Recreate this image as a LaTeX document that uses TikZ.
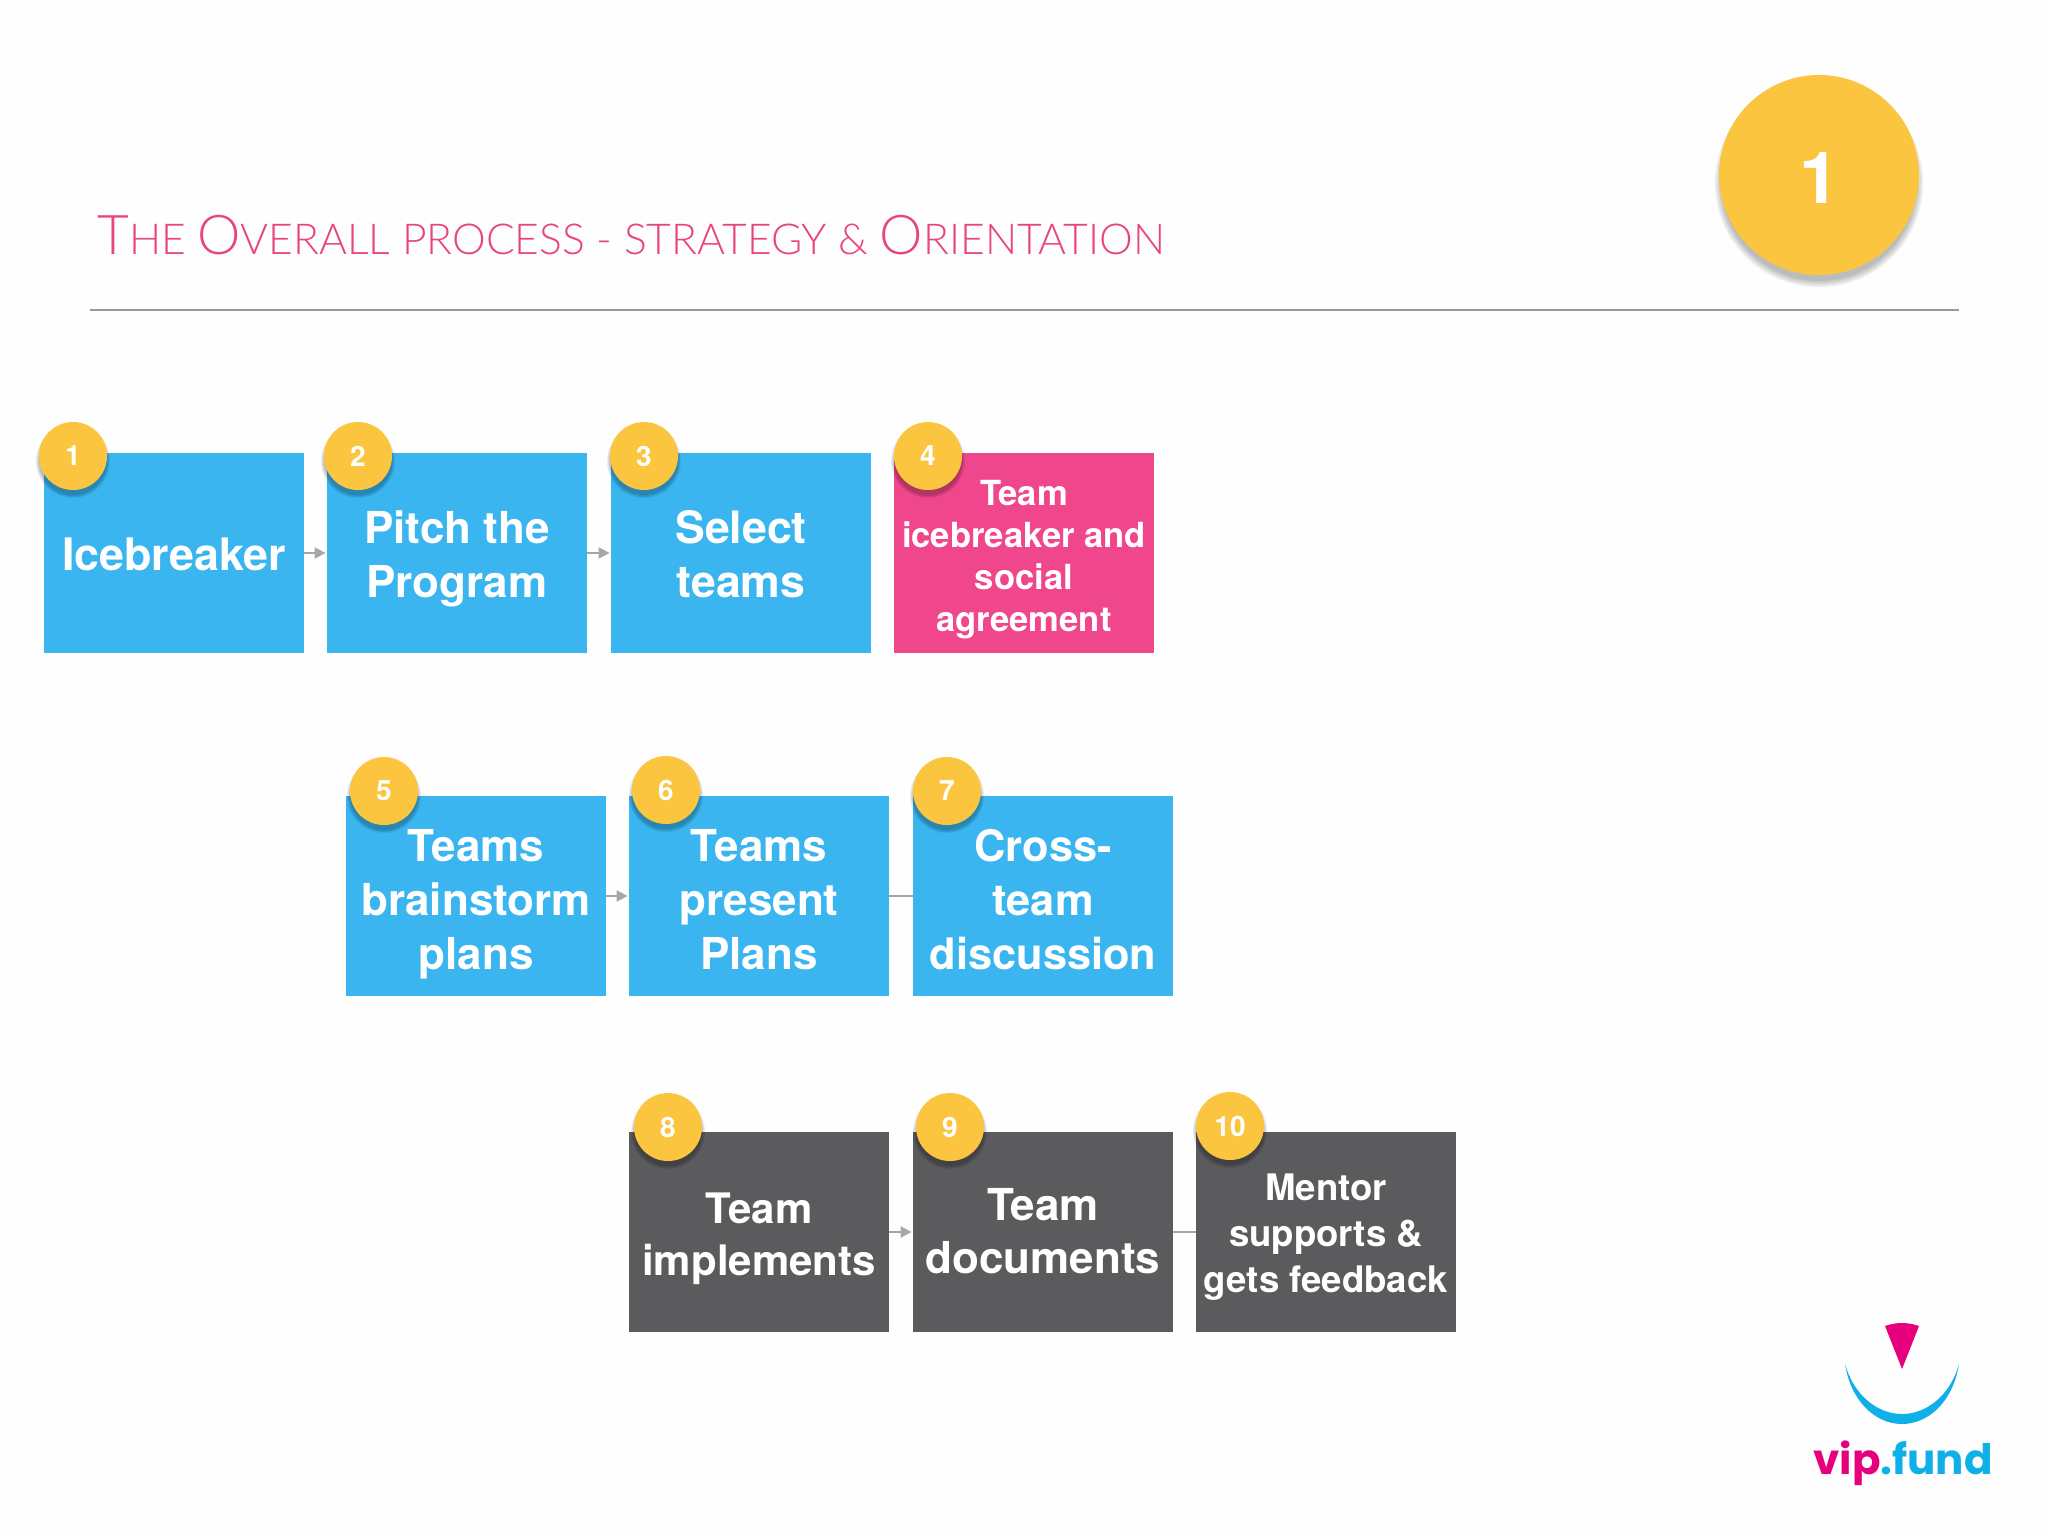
\documentclass[tikz,border=0pt]{standalone}
\usepackage{fontspec}
\setmainfont{TeX Gyre Heros}
\newfontfamily\titlefont{Lato}[UprightFont=* Light]
\newfontfamily\logofont{Poppins}[UprightFont=* Bold]
\usetikzlibrary{arrows.meta}

\definecolor{pagewhite}{HTML}{FEFEFE}
\definecolor{stepblue}{HTML}{3AB5F0}
\definecolor{steppink}{HTML}{F0468C}
\definecolor{stepdark}{HTML}{5B5A5D}
\definecolor{badgeyellow}{HTML}{FBC53F}
\definecolor{titlepink}{HTML}{E8457F}
\definecolor{logopink}{HTML}{E6007E}
\definecolor{logoblue}{HTML}{0FB0E8}

\tikzset{
    stepbox/.style={minimum width=130pt,minimum height=100pt,inner sep=0pt,align=center,text=white},
    bluebox/.style={stepbox,fill=stepblue},
    darkbox/.style={stepbox,fill=stepdark},
    basedrop/.style={text height=#1pt,text depth=0pt},
    badge/.style={circle,fill=badgeyellow,minimum size=34pt,inner sep=0pt,text=white,font=\fontsize{14}{16}\selectfont\bfseries},
    link/.style={draw=black!35,line width=1pt},
    arrowlink/.style={link,-{Triangle[length=5.5pt,width=5.5pt]},shorten >=0.5pt},
}

% soft shadow, then the numbered disc
\newcommand{\stepbadge}[2]{
    \foreach \r in {18.5,18,17.5,17}
        \fill[black,opacity=0.07] (#1) ++(0,5) circle (\r pt);
    \node[badge] (badge#2) at (#1) {#2};
}

\begin{document}
\begin{tikzpicture}[x=0.5pt,y=-0.5pt]
    \useasboundingbox[fill=pagewhite] (0,0) rectangle (2048,1536);

    % header
    \node[anchor=base west,inner sep=0pt,text=titlepink,font=\titlefont\fontsize{21.3}{24}\selectfont] (title) at (97,254)
        {{\fontsize{27.4}{24}\selectfont T}HE {\fontsize{27.4}{24}\selectfont O}VERALL PROCESS - STRATEGY \& {\fontsize{27.4}{24}\selectfont O}RIENTATION};
    \coordinate (ruleleft) at (90,310);
    \coordinate (ruleright) at (1959,310);
    \draw[black!40,line width=0.9pt] (ruleleft) -- (ruleright);
    \foreach \r in {52,51,50,49}
        \fill[black,opacity=0.07] (1819,183) circle (\r pt);
    \node[circle,fill=badgeyellow,minimum size=100pt,inner sep=0pt,text=white,basedrop=28,font=\fontsize{36}{40}\selectfont\bfseries] (phase) at (1819,175) {1};

    % first row
    \node[bluebox,basedrop=17.7,font=\fontsize{22.4}{27}\selectfont\bfseries] (icebreaker) at (174,553) {Icebreaker};
    \node[bluebox,basedrop=44,font=\fontsize{22}{27}\selectfont\bfseries] (pitch) at (457,553) {Pitch the\\Program};
    \node[bluebox,basedrop=44,font=\fontsize{22.3}{27}\selectfont\bfseries] (select) at (741,553) {Select\\teams};
    \node[stepbox,fill=steppink,basedrop=78.6,font=\fontsize{17.3}{21}\selectfont\bfseries] (social) at (1024,553) {Team\\icebreaker and\\social\\agreement};

    % second row
    \node[bluebox,basedrop=73,font=\fontsize{22}{27}\selectfont\bfseries] (brainstorm) at (476,896) {Teams\\brainstorm\\plans};
    \node[bluebox,basedrop=73,font=\fontsize{22}{27}\selectfont\bfseries] (present) at (759,896) {Teams\\present\\Plans};
    \node[bluebox,basedrop=73,font=\fontsize{21.7}{27}\selectfont\bfseries] (crossteam) at (1043,896) {Cross-\\team\\discussion};

    % third row
    \node[darkbox,basedrop=43,font=\fontsize{21}{26}\selectfont\bfseries] (implements) at (759,1232) {Team\\implements};
    \node[darkbox,basedrop=41.2,font=\fontsize{22}{26.5}\selectfont\bfseries] (documents) at (1043,1232) {Team\\documents};
    \node[darkbox,basedrop=60.8,font=\fontsize{18.3}{23}\selectfont\bfseries] (mentor) at (1326,1232) {Mentor\\supports \&\\gets feedback};

    \draw[arrowlink] (icebreaker) -- (pitch);
    \draw[arrowlink] (pitch) -- (select);
    \draw[arrowlink] (brainstorm) -- (present);
    \draw[link] (present) -- (crossteam);
    \draw[arrowlink] (implements) -- (documents);
    \draw[link] (documents) -- (mentor);

    \stepbadge{73,456}{1}
    \stepbadge{358,456}{2}
    \stepbadge{644,456}{3}
    \stepbadge{928,456}{4}
    \stepbadge{384,791}{5}
    \stepbadge{666,790}{6}
    \stepbadge{947,791}{7}
    \stepbadge{668,1127}{8}
    \stepbadge{950,1127}{9}
    \stepbadge{1230,1126}{10}

    % logo
    \fill[logopink] (1885,1326) .. controls (1896,1322) and (1908,1322) .. (1919,1326) -- (1902,1369) -- cycle;
    \fill[logoblue] (1845,1364) .. controls (1851,1402) and (1876,1424) .. (1902,1424)
        .. controls (1928,1424) and (1953,1402) .. (1959,1364)
        .. controls (1950,1396) and (1926,1414) .. (1902,1414)
        .. controls (1878,1414) and (1854,1396) .. (1845,1364) -- cycle;
    \node[anchor=base west,inner sep=0pt,font=\logofont\fontsize{21}{26}\selectfont] (logotext) at (1813,1474)
        {\textcolor{logopink}{vip}\textcolor{logoblue}{.fund}};
\end{tikzpicture}
\end{document}
